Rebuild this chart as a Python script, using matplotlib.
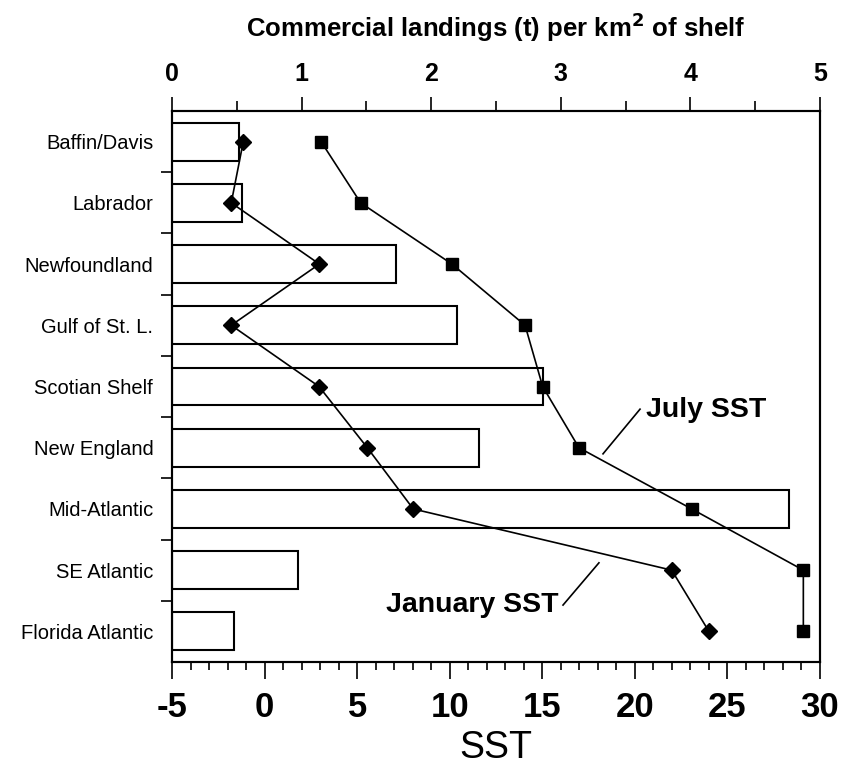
import matplotlib
matplotlib.use("Agg")
import matplotlib.pyplot as plt
from matplotlib.ticker import MultipleLocator, FixedLocator

plt.rcParams['font.family'] = ['Liberation Sans', 'DejaVu Sans']
plt.rcParams['axes.unicode_minus'] = False

regions = ["Baffin/Davis", "Labrador", "Newfoundland", "Gulf of St. L.", "Scotian Shelf",
           "New England", "Mid-Atlantic", "SE Atlantic", "Florida Atlantic"]
landings = [0.52, 0.54, 1.73, 2.20, 2.86, 2.37, 4.76, 0.97, 0.48]
jan_sst = [-1.15, -1.8, 2.96, -1.8, 2.94, 5.55, 8.03, 21.99, 24.0]
jul_sst = [3.05, 5.19, 10.12, 14.07, 15.02, 16.98, 23.07, 29.1, 29.1]

pos = list(range(1, len(regions) + 1))

fig = plt.figure(figsize=(8.42, 7.72), dpi=100)
ax = fig.add_axes([172/842, 1-662/772, (820-172)/842, (662-111)/772])
ax2 = ax.twiny()

# bars on top (landings) axis
ax2.barh(pos, landings, height=0.62, color='white', edgecolor='black', linewidth=1.5, zorder=2)
ax2.set_xlim(0, 5)
ax2.xaxis.set_major_locator(MultipleLocator(1))
ax2.xaxis.set_minor_locator(MultipleLocator(0.5))
ax2.tick_params(axis='x', which='major', length=10, width=1.2, pad=8)
ax2.tick_params(axis='x', which='minor', length=7, width=1.2)
fig.canvas.draw()
for lab in ax2.get_xticklabels():
    lab.set_fontsize(18)
    lab.set_fontweight('bold')
ax2.set_xlabel("Commercial landings (t) per km$^\\mathbf{2}$ of shelf", fontsize=18.5,
               fontweight='bold', labelpad=18)

# SST lines on bottom axis
ax.set_zorder(ax2.get_zorder() + 1)
ax.patch.set_visible(False)
ax.plot(jan_sst, pos, color='black', linewidth=1.2, marker='D', markersize=8.5, zorder=3)
ax.plot(jul_sst, pos, color='black', linewidth=1.2, marker='s', markersize=8, zorder=3)
ax.set_xlim(-5, 30)
ax.set_ylim(9.5, 0.5)
ax2.set_ylim(9.5, 0.5)
ax.xaxis.set_major_locator(MultipleLocator(5))
ax.xaxis.set_minor_locator(MultipleLocator(1))
ax.tick_params(axis='x', which='major', length=12, width=1.2, pad=9)
ax.tick_params(axis='x', which='minor', length=6, width=1.2)
for lab in ax.get_xticklabels():
    lab.set_fontsize(25)
    lab.set_fontweight('bold')
ax.set_xlabel("SST", fontsize=27, labelpad=4)

ax.yaxis.set_major_locator(FixedLocator([p + 0.5 for p in pos[:-1]]))
ax.set_yticklabels([])
ax.yaxis.set_minor_locator(FixedLocator(pos))
ax.set_yticklabels(regions, minor=True, fontsize=14.5)
ax.tick_params(axis='y', which='major', length=8, width=1.2)
ax.tick_params(axis='y', which='minor', length=0, pad=13.5)
ax2.tick_params(axis='y', which='both', left=False, right=False, labelleft=False)

for a in (ax, ax2):
    for s in a.spines.values():
        s.set_linewidth(1.5)

# annotations
ax.text(20.6, 5.38, "July SST", fontsize=20.5, fontweight='bold', ha='left', va='center')
ax.plot([18.28, 20.28], [6.10, 5.37], color='black', linewidth=1.2)
ax.text(15.85, 8.57, "January SST", fontsize=20.5, fontweight='bold', ha='right', va='center')
ax.plot([16.12, 18.06], [8.57, 7.88], color='black', linewidth=1.2)

fig.savefig("out.png", dpi=100)
